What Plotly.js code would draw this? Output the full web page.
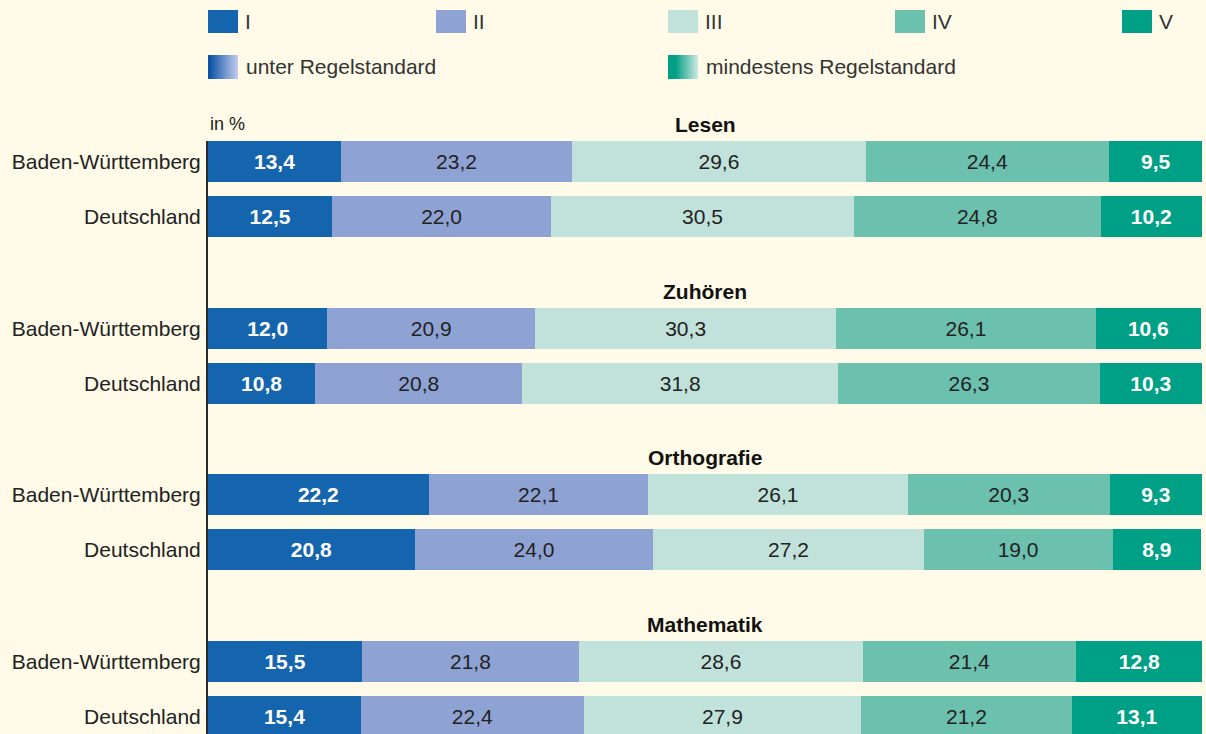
<!DOCTYPE html>
<html>
<head>
<meta charset="utf-8">
<script src="https://cdn.plot.ly/plotly-3.0.1.min.js"></script>
<style>
html,body{margin:0;padding:0;background:#fffbe8;}
#chart{width:1206px;height:734px;}
</style>
</head>
<body>
<div id="chart"></div>
<script>
// ---- data ----
const levels = ['I', 'II', 'III', 'IV', 'V'];
const domains = ['Lesen', 'Zuhören', 'Orthografie', 'Mathematik'];
const regions = ['Baden-Württemberg', 'Deutschland'];
// order: Lesen BW, Lesen D, Zuhören BW, Zuhören D, Orthografie BW, Orthografie D, Mathematik BW, Mathematik D
const levelI   = [13.4, 12.5, 12.0, 10.8, 22.2, 20.8, 15.5, 15.4];
const levelII  = [23.2, 22.0, 20.9, 20.8, 22.1, 24.0, 21.8, 22.4];
const levelIII = [29.6, 30.5, 30.3, 31.8, 26.1, 27.2, 28.6, 27.9];
const levelIV  = [24.4, 24.8, 26.1, 26.3, 20.3, 19.0, 21.4, 21.2];
const levelV   = [9.5, 10.2, 10.6, 10.3, 9.3, 8.9, 12.8, 13.1];
const legendGroups = ['unter Regelstandard', 'mindestens Regelstandard'];

// ---- styling ----
const colors = ['#1565ae', '#8fa2d4', '#c1e2da', '#6cc0ae', '#00a086'];
const BG = '#fffbe8';
const FONT = 'Liberation Sans, Arial, sans-serif';
const GROUP_GAP = 3.03;
const W = 1206, H = 734, ML = 208, MR = 4, MT = 141, MB = 0;
const PW = W - ML - MR, PH = H - MT - MB;

const allLevels = [levelI, levelII, levelIII, levelIV, levelV];
const yPos = [], yText = [];
domains.forEach((d, di) => regions.forEach((r, ri) => {
  yPos.push(di * GROUP_GAP + ri);
  yText.push(r);
}));

const traces = allLevels.map((vals, li) => {
  const strong = (li === 0 || li === 4);
  return {
    type: 'bar', orientation: 'h', name: levels[li],
    x: vals, y: yPos, width: 0.745,
    marker: {color: colors[li], line: {width: 0}},
    texttemplate: '%{x:.1f}', textposition: 'inside', insidetextanchor: 'middle',
    textangle: 0, constraintext: 'none',
    insidetextfont: {family: FONT, size: 21, color: strong ? '#ffffff' : '#222222', weight: strong ? 'bold' : 'normal'},
    hoverinfo: 'skip', showlegend: false
  };
});

// y range: first bar top at plot top; 55 px per unit
const pxPerUnit = 55;
const yMin = -0.3727, yMax = yMin + PH / pxPerUnit;

const px2x = px => (px - ML) / PW;
const px2y = py => (H - MB - py) / PH;
const data2paperY = v => (yMax - v) / (yMax - yMin);

const annotations = [];
domains.forEach((d, di) => {
  annotations.push({
    xref: 'x', yref: 'paper', x: 50, y: data2paperY(di * GROUP_GAP - 0.67), text: '<b>' + d + '</b>',
    showarrow: false, xanchor: 'center', yanchor: 'middle',
    font: {family: FONT, size: 21, color: '#111111'}
  });
});
annotations.push({
  xref: 'paper', yref: 'paper', x: 0, y: px2y(124), text: 'in %', showarrow: false,
  xanchor: 'left', yanchor: 'middle', font: {family: FONT, size: 18, color: '#222222'}
});

// legend: row 1 solid swatches
const shapes = [];
const legX = [208, 436, 668, 895, 1122];
levels.forEach((l, i) => {
  shapes.push({type: 'rect', xref: 'paper', yref: 'paper',
    x0: px2x(legX[i]), x1: px2x(legX[i] + 30), y0: px2y(33), y1: px2y(10),
    fillcolor: colors[i], line: {width: 0}});
  annotations.push({xref: 'paper', yref: 'paper', x: px2x(legX[i] + 35), y: px2y(21),
    text: l, showarrow: false, xanchor: 'left', yanchor: 'middle',
    font: {family: FONT, size: 21, color: '#333333'}});
});
// row 2 gradient swatches
function gradSvg(c1, c2, mid) {
  const svg = "<svg xmlns='http://www.w3.org/2000/svg' width='60' height='46' preserveAspectRatio='none'>" +
    "<defs><linearGradient id='g' x1='0' y1='0' x2='1' y2='0'>" +
    "<stop offset='0' stop-color='" + c1 + "'/><stop offset='" + mid + "' stop-color='" + c1 + "'/>" +
    "<stop offset='1' stop-color='" + c2 + "'/></linearGradient></defs>" +
    "<rect width='60' height='46' fill='url(#g)'/></svg>";
  return 'data:image/svg+xml;charset=utf-8,' + encodeURIComponent(svg);
}
const gradX = [208, 668];
const gradCols = [['#0a52a3', '#c6cdef', 0.05], ['#00a086', '#cfe9e1', 0.25]];
const images = gradX.map((gx, i) => ({
  source: gradSvg(gradCols[i][0], gradCols[i][1], gradCols[i][2]),
  xref: 'paper', yref: 'paper', x: px2x(gx), y: px2y(55),
  sizex: 30 / PW, sizey: 24 / PH, xanchor: 'left', yanchor: 'top',
  sizing: 'stretch', layer: 'above'
}));
legendGroups.forEach((t, i) => {
  annotations.push({xref: 'paper', yref: 'paper', x: px2x(gradX[i] + 36), y: px2y(67),
    text: t, showarrow: false, xanchor: 'left', yanchor: 'middle',
    font: {family: FONT, size: 21, color: '#333333'}});
});

const layout = {
  width: W, height: H,
  margin: {l: ML, r: MR, t: MT, b: MB, pad: 0},
  paper_bgcolor: BG, plot_bgcolor: BG,
  barmode: 'stack', separators: ',.',
  showlegend: false,
  xaxis: {range: [0, 100], visible: false, fixedrange: true},
  yaxis: {range: [yMax, yMin], tickvals: yPos, ticktext: yText, showgrid: false, zeroline: false,
    showline: true, linecolor: '#2a2a2a', linewidth: 2, ticks: '', ticklabelstandoff: 1,
    tickfont: {family: FONT, size: 21, color: '#222222'}, fixedrange: true},
  annotations: annotations, shapes: shapes, images: images,
  font: {family: FONT}
};

Plotly.newPlot('chart', traces, layout, {displayModeBar: false, staticPlot: true});
</script>
</body>
</html>
